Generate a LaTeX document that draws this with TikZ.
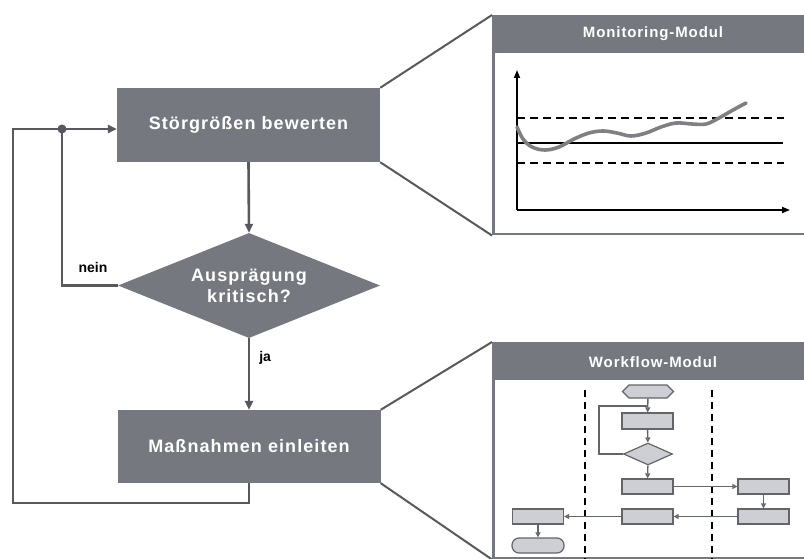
\documentclass[tikz,border=0pt]{standalone}
\usepackage{fontspec}
\setmainfont{Liberation Sans}
\newfontfamily\spacedfont[LetterSpace=6]{Liberation Sans}
\usetikzlibrary{arrows.meta,shapes.geometric,shapes.symbols}

\definecolor{boxgray}{RGB}{118,120,128}
\definecolor{linegray}{RGB}{88,89,94}
\definecolor{curvegray}{RGB}{128,128,132}
\definecolor{wfill}{RGB}{206,207,212}
\definecolor{wline}{RGB}{100,101,106}

\tikzset{
  mainbox/.style={rectangle, fill=boxgray, text=white, inner sep=0pt,
    font=\spacedfont\bfseries\fontsize{18}{21}\selectfont,
    minimum width=263pt, minimum height=74pt},
  decision/.style={diamond, aspect=2.5, fill=boxgray, text=white, inner sep=0pt,
    align=center, font=\spacedfont\bfseries\fontsize{18}{21}\selectfont,
    minimum width=262pt, minimum height=105pt},
  conn/.style={draw=linegray, line width=2.6pt, line join=miter},
  connarrow/.style={conn, -{Triangle[length=9pt,width=8pt]}},
  edgelabel/.style={font=\bfseries\fontsize{14}{16}\selectfont, text=black, inner sep=0pt},
  panel/.style={rectangle, draw=boxgray, line width=2.5pt, inner sep=0pt, anchor=north west},
  panelhead/.style={rectangle, fill=boxgray, inner sep=0pt, anchor=north west},
  paneltitle/.style={text=white, inner sep=0pt,
    font=\spacedfont\bfseries\fontsize{15}{17}\selectfont},
  zoomline/.style={draw=linegray, line width=2pt},
  axisline/.style={draw=black, line width=1.6pt, -{Triangle[length=8pt,width=6pt]}},
  limitline/.style={draw=black, line width=2pt, dash pattern=on 8pt off 5pt},
  wbox/.style={rectangle, draw=wline, fill=wfill, line width=1.2pt, inner sep=0pt,
    minimum width=51pt, minimum height=15pt},
  whex/.style={signal, signal to=east and west, draw=wline, fill=wfill, line width=1.2pt,
    inner sep=0pt, minimum width=51pt, minimum height=13pt},
  wdiamond/.style={diamond, aspect=2.2, draw=wline, fill=wfill, line width=1.2pt,
    inner sep=0pt, minimum width=49pt, minimum height=22pt},
  wterm/.style={rectangle, rounded corners=7pt, draw=wline, fill=wfill, line width=1.2pt,
    inner sep=0pt, minimum width=52pt, minimum height=15pt},
  wflow/.style={draw=wline, line width=1.4pt, -{Triangle[length=5pt,width=5pt,fill=wfill]}},
  wplain/.style={draw=wline, line width=1.4pt},
  lane/.style={draw=black, line width=2pt, dash pattern=on 7pt off 5pt},
}

\begin{document}
\begin{tikzpicture}[x=1pt,y=-1pt]
\useasboundingbox (0,0) rectangle (804,559);

% ---- main process ----
\node[mainbox] (eval) at (248.5,125) {Störgrößen bewerten};
\node[decision] (crit) at (249,285.5) {Ausprägung\\kritisch?};
\node[mainbox, minimum height=73pt] (act) at (249,446.5) {Maßnahmen einleiten};

\coordinate (jn) at (62,129);
\coordinate (lb) at (13,503);
\coordinate (lt) at (13,129);

\draw[connarrow] (eval.south) -- (crit.north);
\draw[connarrow] (crit.south) -- (act.north)
  node[edgelabel, pos=0.28, anchor=west, xshift=9pt] (ja) {ja};
\draw[conn] (crit.west) -| (jn);
\node[edgelabel] (nein) at (93,267) {nein};
\draw[conn] (act.south) |- (lb) -- (lt) -- (jn);
\draw[connarrow] (jn) -- (jn -| eval.west);
\fill[linegray] (jn) circle (4.5pt);

% ---- monitoring panel ----
\node[panel, minimum width=340pt, minimum height=218pt] (mon) at (492,15) {};
\node[panelhead, minimum width=340pt, minimum height=38pt] (monhead) at (492,15) {};
\node[paneltitle] (montitle) at (653,34) {Monitoring-Modul};
\draw[zoomline] (eval.north east) -- (mon.north west);
\draw[zoomline] (eval.south east) -- (mon.south west);

% chart
\draw[axisline] (517,210) -- (517,70);
\draw[axisline] (517,210) -- (790,210);
\draw[limitline] (517,118) -- (784,118);
\draw[limitline] (517,163) -- (784,163);
\draw[black, line width=1.3pt] (517,143) -- (783,143);
\draw[curvegray, line width=3.6pt, line cap=round] plot[smooth, tension=0.6] coordinates {
  (517,127) (523,139) (532,147) (545,150) (559,147) (574,139) (589,133)
  (603,131) (617,133) (631,136) (646,133) (661,127) (676,123) (692,124)
  (706,124) (719,118) (733,110) (746,103)};

% ---- workflow panel ----
\node[panel, minimum width=340pt, minimum height=215pt] (wf) at (492,342) {};
\node[panelhead, minimum width=340pt, minimum height=38pt] (wfhead) at (492,342) {};
\node[paneltitle] (wftitle) at (653,362) {Workflow-Modul};
\draw[zoomline] (act.north east) -- (wf.north west);
\draw[zoomline] (act.south east) -- (wf.south west);

% swimlane separators
\draw[lane] (585,390) -- (585,559);
\draw[lane] (712,390) -- (712,559);

% miniature workflow
\node[whex] (w1) at (648,391.5) {};
\node[wbox, minimum height=16pt] (w2) at (647.5,421) {};
\node[wdiamond] (w3) at (648,454) {};
\node[wbox] (w4) at (647.5,486.5) {};
\node[wbox] (w5) at (763.5,486.5) {};
\node[wbox] (w6) at (763.5,516.5) {};
\node[wbox] (w7) at (647.5,516.5) {};
\node[wbox] (w8) at (538,516.5) {};
\node[wterm] (w9) at (538,545.5) {};
\coordinate (wl) at (599,406);

\draw[wflow] (w1) -- (w2);
\draw[wplain] (w3.west) -| (wl) -- (wl -| w2.north);
\draw[wflow] (w2) -- (w3);
\draw[wflow] (w3) -- (w4);
\draw[wflow] (w4) -- (w5);
\draw[wflow] (w5) -- (w6);
\draw[wflow] (w6) -- (w7);
\draw[wflow] (w7) -- (w8);
\draw[wflow] (w8) -- (w9);
\end{tikzpicture}
\end{document}
